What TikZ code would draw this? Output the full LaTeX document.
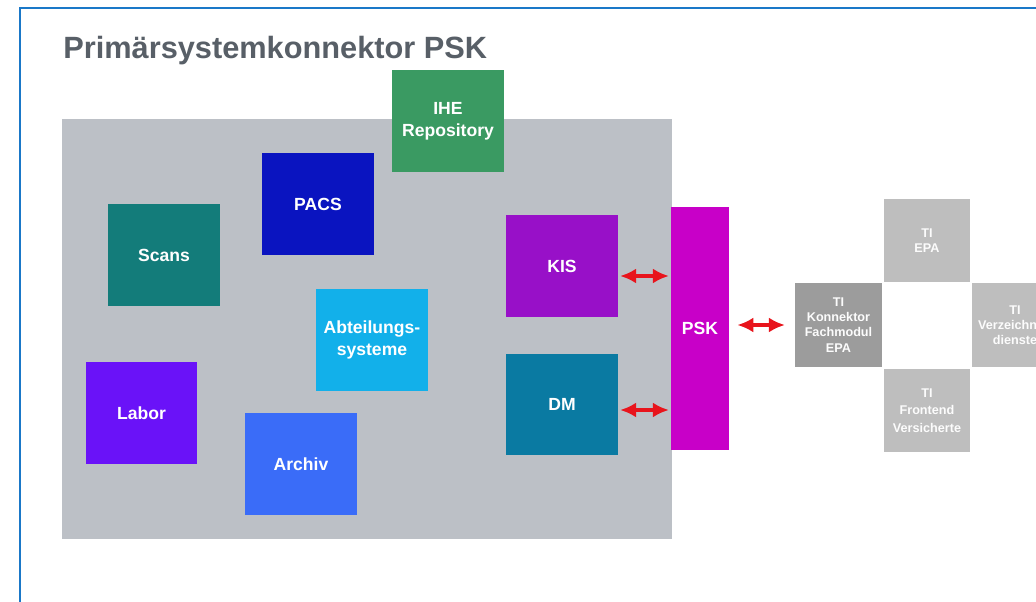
\documentclass[tikz,border=0pt]{standalone}
\usepackage{fontspec}
\setmainfont{Liberation Sans}
\usetikzlibrary{arrows.meta}

\definecolor{frameblue}{HTML}{1A78C8}
\definecolor{titlegrey}{HTML}{585F67}
\definecolor{areagrey}{HTML}{BCC0C6}
\definecolor{ihegreen}{HTML}{3A9A62}
\definecolor{pacsblue}{HTML}{0A14C0}
\definecolor{scansteal}{HTML}{137C7A}
\definecolor{kispurple}{HTML}{9810C8}
\definecolor{dmblue}{HTML}{0A7AA2}
\definecolor{abtcyan}{HTML}{12B0EA}
\definecolor{laborviolet}{HTML}{6A12F8}
\definecolor{archivblue}{HTML}{3A6CF8}
\definecolor{pskmagenta}{HTML}{C800C8}
\definecolor{tidark}{HTML}{9C9C9C}
\definecolor{tilight}{HTML}{BEBEBE}
\definecolor{arrowred}{HTML}{E8141C}

\begin{document}
\begin{tikzpicture}[x = 0.02cm, y = -0.02cm,
    box/.style = {fill = #1, text = white, font = \bfseries\fontsize{10}{12.5}\selectfont,
      align = center, minimum width = 2.24cm, minimum height = 2.04cm, inner sep = 0pt},
    tibox/.style = {fill = #1, text = white!95!tilight, font = \bfseries\fontsize{7.2}{8.6}\selectfont,
      align = center, minimum width = 1.73cm, minimum height = 1.67cm, inner sep = 0pt},
    link/.style = {arrowred, line width = 2.2pt, {Latex[length = 3.2mm, width = 3mm]}-{Latex[length = 3.2mm, width = 3mm]}}]

    \clip (0,0) rectangle (1036,602);
    \fill [white] (0,0) rectangle (1036,602);
    \draw [frameblue, line width = 1.2pt] (20,8) rectangle (1080,660);

    \node [anchor = base west, inner sep = 0pt, text = titlegrey, font = \bfseries\fontsize{17.5}{20}\selectfont] (title) at (63,58) {Primärsystemkonnektor PSK};

    % Primaersystem-Bereich
    \fill [areagrey] (62,119) rectangle (672,539);

    \node [box = ihegreen] (ihe) at (448,121) {IHE\\Repository};
    \node [box = pacsblue] (pacs) at (318,204) {PACS};
    \node [box = scansteal] (scans) at (164,255) {Scans};
    \node [box = kispurple] (kis) at (562,266) {KIS};
    \node [box = dmblue] (dm) at (562,404.5) {DM};
    \node [box = abtcyan] (abt) at (372,340) {Abteilungs-\\systeme};
    \node [box = laborviolet] (labor) at (141.5,413) {Labor};
    \node [box = archivblue] (archiv) at (301,464) {Archiv};

    \node [fill = pskmagenta, text = white, font = \bfseries\fontsize{10}{12}\selectfont,
      minimum width = 1.16cm, minimum height = 4.86cm, inner sep = 0pt] (psk) at (700,328.5) {PSK};

    % TI
    \node [tibox = tidark] (ticon) at (838.5,325) {TI\\Konnektor\\Fachmodul\\EPA};
    \node [tibox = tilight] (tiepa) at (927,240.5) {TI\\EPA};
    \node [tibox = tilight] (tiverz) at (1015,325) {TI\\Verzeichnis-\\dienste};
    \node [tibox = tilight, font = \bfseries\fontsize{7.2}{10}\selectfont] (tifront) at (927,410.5) {TI\\Frontend\\Versicherte};

    \draw [link, shorten <= 1pt, shorten >= 1pt] ([yshift = -0.2cm]kis.east) -- ([yshift = -0.2cm]kis.east -| psk.west);
    \draw [link, shorten <= 1pt, shorten >= 1pt] ([yshift = -0.11cm]dm.east) -- ([yshift = -0.11cm]dm.east -| psk.west);
    \draw [link, shorten <= 0.16cm, shorten >= 0.2cm] (psk.east |- ticon.west) -- (ticon.west);
    \end{tikzpicture}
\end{document}
